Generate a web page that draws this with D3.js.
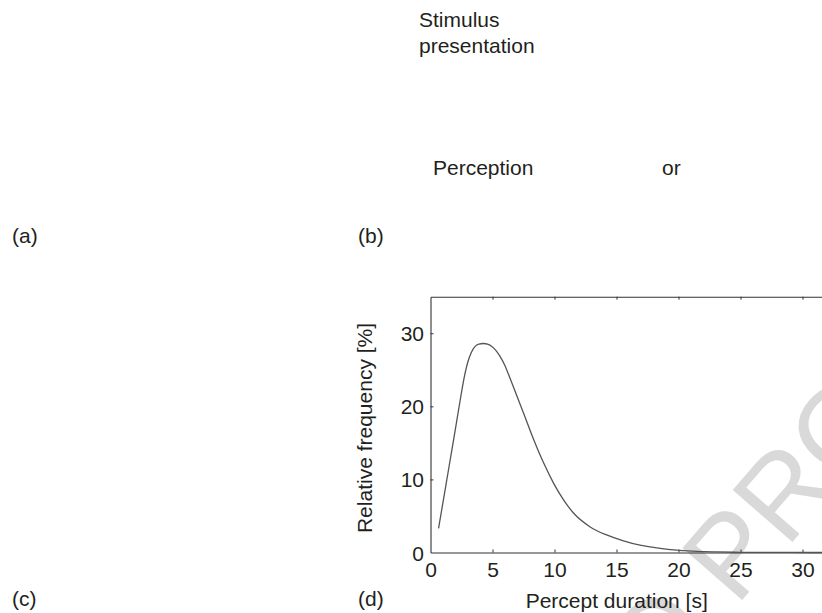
<!DOCTYPE html>
<html>
<head>
<meta charset="utf-8">
<script src="https://cdn.jsdelivr.net/npm/d3@7"></script>
<style>
  html, body { margin: 0; padding: 0; background: #fff; }
  svg { display: block; font-family: "Liberation Sans", Arial, Helvetica, sans-serif; }
</style>
</head>
<body>
<svg id="chart" width="822" height="613"></svg>
<script>
// ---- data ----
const durations = [0.65, 1.0, 1.5, 2.0, 2.4, 2.7, 3.0, 3.3, 3.6, 3.9, 4.27, 4.6, 4.95, 5.3, 5.62, 6.0, 6.4, 6.97, 7.5, 8.31, 9.11, 9.92, 10.73, 11.53, 12.88, 14.2, 15.56, 16.9, 18.0, 19.0, 20.0, 21.5, 23.0, 25.0, 28.0, 31.0, 35.0];
const frequencies = [3.3, 6.8, 11.8, 16.8, 20.9, 23.8, 26.0, 27.4, 28.2, 28.5, 28.6, 28.5, 28.2, 27.6, 26.8, 25.6, 23.9, 21.4, 19.1, 15.5, 12.3, 9.5, 7.2, 5.4, 3.5, 2.4, 1.6, 1.0, 0.7, 0.45, 0.3, 0.15, 0.08, 0.03, 0.01, 0, 0];
const xTicks = [0, 5, 10, 15, 20, 25, 30];
const yTicks = [0, 10, 20, 30];
const xDomain = [0, 35];
const yDomain = [0, 35];
const xLabel = "Percept duration [s]";
const yLabel = "Relative frequency [%]";
const panelLabels = ["(a)", "(b)", "(c)", "(d)"];
const stimulusLines = ["Stimulus", "presentation"];
const perceptionTexts = ["Perception", "or"];
const watermark = ["UNCORRECTED", "PROOF"];

// ---- drawing ----
const svg = d3.select("#chart");
const textColor = "#231f20";
const fs = 21;

// watermark (underneath everything)
const wmSize = 115;
const wm = svg.append("g")
  .attr("transform", "translate(736,607) rotate(-49)")
  .attr("fill", "#d9d9d9")
  .style("font-size", wmSize + "px");
wm.append("text").attr("x", -0.278 * wmSize).attr("text-anchor", "end").text(watermark[0]);
wm.append("text").attr("x", 0).attr("text-anchor", "start").text(watermark[1]);

const x = d3.scaleLinear().domain(xDomain).range([430.5, 430.5 + 35 * 12.4]);
const y = d3.scaleLinear().domain(yDomain).range([552.5, 296.7]);

// panel labels
const panelPos = [[12, 242.5], [358, 242.5], [12, 605.5], [358, 605.5]];
svg.selectAll("text.panel").data(panelLabels).join("text")
  .attr("class", "panel")
  .attr("x", (d, i) => panelPos[i][0])
  .attr("y", (d, i) => panelPos[i][1])
  .attr("fill", textColor).style("font-size", fs + "px")
  .text(d => d);

// panel (b) texts
svg.selectAll("text.stim").data(stimulusLines).join("text")
  .attr("class", "stim")
  .attr("x", 419)
  .attr("y", (d, i) => 27 + i * 26)
  .attr("fill", textColor).style("font-size", fs + "px")
  .text(d => d);
const percPos = [433, 662];
svg.selectAll("text.perc").data(perceptionTexts).join("text")
  .attr("class", "perc")
  .attr("x", (d, i) => percPos[i])
  .attr("y", 175)
  .attr("fill", textColor).style("font-size", fs + "px")
  .text(d => d);

// axes
const axColor = "#333";
const gx = svg.append("g").attr("transform", `translate(0,${y(0)})`)
  .call(d3.axisBottom(x).tickValues(xTicks).tickSize(-3).tickSizeOuter(0).tickPadding(10));
const gTop = svg.append("g").attr("transform", `translate(0,${y(35)})`)
  .call(d3.axisTop(x).tickValues(xTicks.slice(1)).tickSize(-3).tickSizeOuter(0).tickFormat(""));
const gy = svg.append("g").attr("transform", `translate(${x(0)},0)`)
  .call(d3.axisLeft(y).tickValues(yTicks).tickSize(-3).tickSizeOuter(0).tickPadding(6.5));

[gx, gTop, gy].forEach(g => {
  g.select(".domain").attr("stroke", axColor).attr("stroke-width", 1.1);
  g.selectAll(".tick line").attr("stroke", axColor).attr("stroke-width", 1);
  g.selectAll(".tick text").attr("fill", textColor)
    .style("font-size", fs + "px")
    .style("font-family", "'Liberation Sans', Arial, sans-serif");
});
gy.selectAll(".tick text").attr("dy", "0.36em");
gy.selectAll(".tick").filter(d => d === 0).select("line").remove();
gx.selectAll(".tick").filter(d => d === 0).select("line").remove();

// axis labels
svg.append("text")
  .attr("x", 616.7).attr("y", 608)
  .attr("text-anchor", "middle")
  .attr("fill", textColor).style("font-size", fs + "px")
  .text(xLabel);
svg.append("text")
  .attr("transform", "translate(371.5,428) rotate(-90)")
  .attr("text-anchor", "middle")
  .attr("fill", textColor).style("font-size", fs + "px")
  .text(yLabel);

// curve
const pts = durations.map((d, i) => [d, frequencies[i]]);
svg.append("path")
  .datum(pts)
  .attr("fill", "none")
  .attr("stroke", "#555")
  .attr("stroke-width", 1.3)
  .attr("d", d3.line().x(d => x(d[0])).y(d => y(d[1])).curve(d3.curveMonotoneX));
</script>
</body>
</html>
